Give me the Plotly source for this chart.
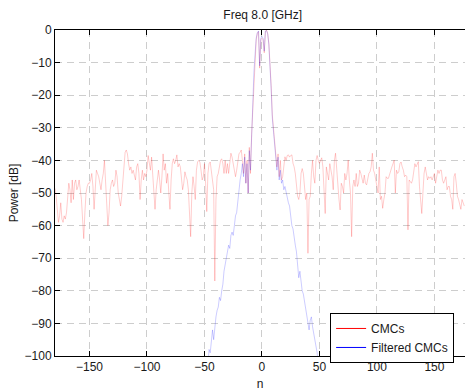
import plotly.graph_objects as go

# CMCs power [dB], n = -180 ... 176 (step 1)
cmc_power = [
    -48.6, -51, -55, -59, -57, -53, -58, -59, -57, -58,
    -56, -50, -47, -49, -53, -46, -52, -47, -46, -49,
    -48, -46, -49, -52, -58, -64, -56, -50, -48, -47,
    -47, -46, -44, -48, -55, -50, -43, -44, -45, -47,
    -49, -46, -44, -40, -46, -51, -60, -56, -49, -47,
    -46, -48, -47, -43, -45, -50, -52, -54, -51, -47,
    -41, -37.5, -36.8, -38, -41, -43, -42, -44, -43, -45,
    -46, -42, -41, -44, -52, -46, -43, -46, -44, -45,
    -43, -38.5, -41, -43, -39, -45, -52, -55, -49, -45,
    -43, -46, -50, -45, -38, -43,
    # -84 .. -18
    -41, -47, -44, -50, -55, -46, -41, -39.5, -41, -40,
    -38.3, -42, -41, -42, -45, -49, -47, -43.5, -45, -46,
    -49, -58, -63.4, -50, -45, -48, -52, -43, -40.5, -40,
    -40.5, -43, -46, -45, -41, -47, -55.7, -44, -41, -40.5,
    -43, -46, -49, -77, -52, -45, -44, -42, -40, -39.5,
    -41, -44, -40, -44, -41, -44, -40, -37.8, -39, -41,
    -43, -45, -43, -40, -38, -37.5, -36.8,
    # -17 .. 17
    -40, -44, -38, -47, -40, -50, -36, -44, -32, -24,
    -14, -8, -3, -1, -0.5, -11.7, -3, -2.5, -3, -7,
    -0.5, 0, -1, -4, -9, -17, -26, -30, -34, -37,
    -42, -38, -45, -40, -46,
    # 18 .. 84
    -45, -41, -38.9, -40, -38.5, -38.3, -39, -38.5, -38.3, -40.9,
    -42, -44, -49, -51, -52, -50, -44, -42.5, -44, -48,
    -52, -50, -68.5, -52, -51, -44, -40, -45, -47, -40,
    -38.5, -40, -40.9, -40, -39.2, -42, -48, -56.3, -42, -44,
    -46, -41, -43, -45, -49, -40, -37.8, -43, -49, -52,
    -55.2, -47, -48, -50, -44, -46, -44, -39.9, -46, -50,
    -63.4, -48, -46, -48, -44, -48, -47,
    # 85 .. 176
    -43, -44, -45.5, -47, -44.5, -47, -47.5, -45, -44, -43.5,
    -42, -37.8, -43, -44, -46, -48, -50, -42, -52, -51,
    -54.7, -52, -50, -45, -45.5, -45.5, -44, -43, -42, -41,
    -39.9, -50, -43, -44, -43.5, -41, -40.5, -42, -43, -45,
    -44.5, -45, -61.3, -46, -46.5, -47, -46, -43, -41, -42,
    -41, -40.4, -48, -54, -56.3, -50, -44, -42, -44, -46,
    -45, -45.5, -45, -46, -45, -44, -47, -45, -43, -44,
    -43, -43, -46, -47, -46, -45, -49, -48, -48, -51,
    -52, -55, -45, -44, -47, -51, -52, -54, -55, -52,
    -53, -54,
]
cmc_start = -180

# Filtered CMCs power [dB], n = -48 ... 50 (step 1)
filt_power = [
    -108, -101, -98, -99, -94, -92, -95, -90, -88, -86,
    -85, -82, -83, -80, -78, -74, -72, -70, -68, -66,
    -67, -63, -62, -63, -60, -57, -56, -52, -49, -46,
    -44, -41, -45, -39, -47, -41, -50, -37, -43, -31,
    -23, -13, -7.5, -2.5, -0.8, -0.3, -11, -2.5, -2, -2.5,
    -6.5, -0.3, -0.2, -1.2, -4.5, -10, -18, -27, -31, -35,
    -38, -43, -39, -46, -43, -47, -46, -49, -48, -50,
    -52, -53, -54, -57, -60, -61, -64, -66, -68, -72,
    -76, -74, -77, -80, -81, -83, -86, -88, -90, -92,
    -89, -88, -91, -93, -94, -97, -99, -104, -110,
]
filt_start = -48

series_names = ["CMCs", "Filtered CMCs"]
x_ticks = [-150, -100, -50, 0, 50, 100, 150]
y_ticks = [0, -10, -20, -30, -40, -50, -60, -70, -80, -90, -100]

cmc_n = list(range(cmc_start, cmc_start + len(cmc_power)))
filt_n = list(range(filt_start, filt_start + len(filt_power)))

fig = go.Figure()
fig.add_trace(go.Scatter(x=cmc_n, y=cmc_power, mode="lines",
                         line=dict(color="rgba(255,0,0,0.2)", width=1),
                         showlegend=False, hoverinfo="skip"))
fig.add_trace(go.Scatter(x=filt_n, y=filt_power, mode="lines",
                         line=dict(color="rgba(0,0,255,0.2)", width=1),
                         showlegend=False, hoverinfo="skip"))
# legend entries with solid colours
fig.add_trace(go.Scatter(x=[None], y=[None], mode="lines", name=series_names[0],
                         line=dict(color="#ff0000", width=1)))
fig.add_trace(go.Scatter(x=[None], y=[None], mode="lines", name=series_names[1],
                         line=dict(color="#0000ff", width=1)))

font_family = "Liberation Sans, Arial, Helvetica, sans-serif"
fig.update_layout(
    width=465, height=392,
    margin=dict(l=55, r=0, t=30, b=36),
    paper_bgcolor="white", plot_bgcolor="white",
    font=dict(family=font_family, size=12, color="#1a1a1a"),
    title=dict(text="Freq 8.0 [GHz]", x=0.565, xanchor="center", y=0.962,
               yanchor="middle", font=dict(size=12, color="#1a1a1a")),
    showlegend=True,
    legend=dict(x=0.671, y=0.132, xanchor="left", yanchor="top",
                bgcolor="white", bordercolor="black", borderwidth=1,
                font=dict(size=12), tracegroupgap=0),
)
fig.update_xaxes(
    range=[-180, 176.6], tickvals=x_ticks, ticks="inside", ticklen=5,
    tickcolor="black", showline=True, linecolor="black", linewidth=1,
    mirror="allticks", showgrid=True, gridcolor="#cdcdcd", griddash="7px,5px",
    zeroline=False, title=dict(text="n", standoff=6, font=dict(size=12)),
)
fig.update_yaxes(
    range=[-100, 0], tickvals=y_ticks, ticks="inside", ticklen=5,
    tickcolor="black", showline=True, linecolor="black", linewidth=1,
    mirror=False, showgrid=True, gridcolor="#cdcdcd", griddash="7px,5px",
    zeroline=False, title=dict(text="Power [dB]", standoff=3, font=dict(size=12)),
)

fig.write_html("out.html")
